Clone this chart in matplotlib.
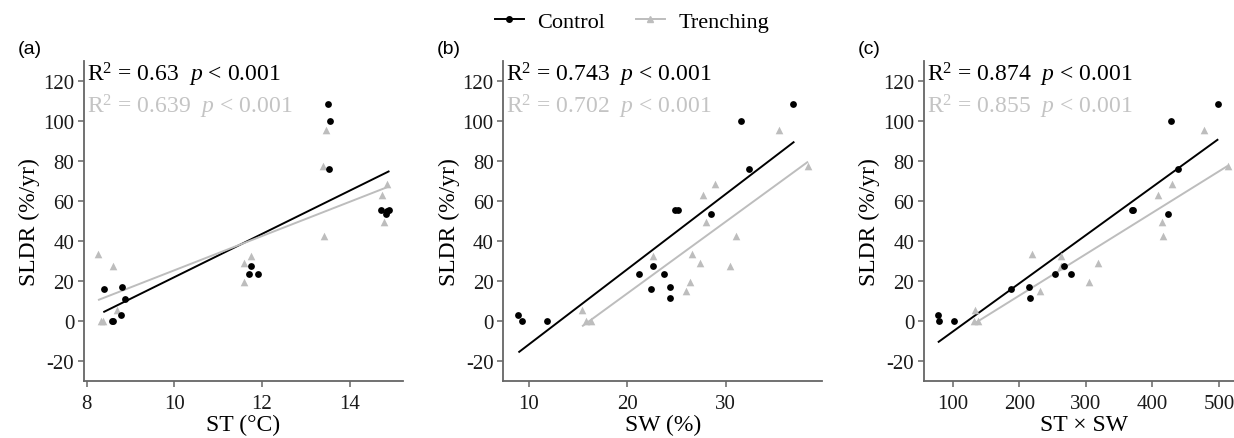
import numpy as np
import matplotlib
matplotlib.use("Agg")
import matplotlib.pyplot as plt
from matplotlib.lines import Line2D

plt.rcParams['font.family'] = ['Liberation Serif', 'DejaVu Serif']
plt.rcParams['mathtext.fontset'] = 'custom'
plt.rcParams['mathtext.rm'] = 'Liberation Serif'
plt.rcParams['mathtext.it'] = 'Liberation Serif:italic'
plt.rcParams['axes.unicode_minus'] = False

ctrl_col = 'black'
trench_col = '#BDBDBD'
axis_col = '#666666'

# panel (a): ST
st_ctrl_x = [8.39, 8.58, 8.61, 8.81, 8.87, 8.78, 11.75, 11.71, 11.90, 13.50, 13.56, 13.52, 14.71, 14.85, 14.90, 14.83]
st_ctrl_y = [16, 0, 0, 17, 11.3, 3, 27.5, 23.5, 23.5, 108.3, 100, 75.7, 55.7, 55, 55.7, 53.3]
st_tr_x = [8.27, 8.61, 8.33, 8.37, 8.70, 11.59, 11.60, 11.76, 13.39, 13.47, 13.41, 14.75, 14.85, 14.79]
st_tr_y = [33.5, 27.7, 0, 0, 5.7, 29, 19.7, 32.7, 77.2, 95.2, 42.3, 63, 68.3, 49.7]
st_fit_x = [[8.40, 14.89], [8.28, 14.85]]
st_fit_y = [[4.7, 74.7], [10.7, 66.8]]

# panel (b): SW
sw_ctrl_x = [8.95, 9.35, 11.85, 21.21, 22.39, 22.66, 23.71, 24.35, 24.32, 24.82, 25.20, 28.47, 31.54, 32.39, 36.85]
sw_ctrl_y = [3.3, 0, 0, 23.7, 16, 27.7, 23.3, 17, 11.7, 55.7, 55.7, 53.3, 100, 75.7, 108.3]
sw_tr_x = [15.37, 15.78, 16.31, 22.59, 25.97, 26.35, 26.62, 27.43, 27.67, 27.97, 28.95, 30.47, 31.04, 35.43, 38.33]
sw_tr_y = [5.7, 0, 0, 32.7, 15.2, 19.7, 33.5, 28.8, 63, 49.7, 68.3, 27.3, 42.3, 95.2, 77.2]
sw_fit_x = [[9.04, 36.88], [15.5, 38.27]]
sw_fit_y = [[-15.3, 89.3], [-2.3, 79.3]]

# panel (c): ST x SW
sx_ctrl_x = [78.4, 79.4, 101.9, 187.9, 214.5, 215.5, 253, 266.5, 278, 370, 371, 423, 428, 438, 498]
sx_ctrl_y = [3.3, 0, 0, 16, 17, 11.7, 23.7, 27.7, 23.3, 55.7, 55.5, 53.3, 100, 75.7, 108.3]
sx_tr_x = [133.5, 132.5, 137.5, 219.5, 230.5, 262, 263, 305, 318, 408, 414, 416.6, 430, 478, 513]
sx_tr_y = [5.7, 0, 0, 33.5, 15.2, 32.7, 27.3, 19.7, 28.8, 63, 49.7, 42.3, 68.3, 95.2, 77.2]
sx_fit_x = [[79, 497.6], [133.5, 512]]
sx_fit_y = [[-10.3, 90.5], [-1, 77.3]]

panels = [
    ('(a)', 'ST (°C)', st_ctrl_x, st_ctrl_y, st_tr_x, st_tr_y, st_fit_x, st_fit_y, (7.94, 15.22), [8, 10, 12, 14], ('0.63', '0.639')),
    ('(b)', 'SW (%)', sw_ctrl_x, sw_ctrl_y, sw_tr_x, sw_tr_y, sw_fit_x, sw_fit_y, (7.43, 39.8), [10, 20, 30], ('0.743', '0.702')),
    ('(c)', 'ST × SW', sx_ctrl_x, sx_ctrl_y, sx_tr_x, sx_tr_y, sx_fit_x, sx_fit_y, (57, 536), [100, 200, 300, 400, 500], ('0.874', '0.855')),
]

fig = plt.figure(figsize=(12.34, 4.39), dpi=100)
lefts = [0.0681, 0.4079, 0.7488]
for left, (tag, xlab, cx, cy, tx, ty, fx, fy, xlim, xt, r2) in zip(lefts, panels):
    ax = fig.add_axes([left, 0.1292, 0.2585, 0.7303])
    ax.plot(fx[0], fy[0], color=ctrl_col, lw=1.4)
    ax.plot(fx[1], fy[1], color=trench_col, lw=1.4)
    ax.scatter(tx, ty, marker='^', s=30, color=trench_col, linewidths=0, zorder=3)
    ax.scatter(cx, cy, marker='o', s=24, color=ctrl_col, linewidths=0, zorder=4)
    ax.set_xlim(*xlim)
    ax.set_ylim(-30, 130)
    ax.set_xticks(xt)
    ax.set_yticks([-20, 0, 20, 40, 60, 80, 100, 120])
    for s in ['top', 'right']:
        ax.spines[s].set_visible(False)
    for s in ['left', 'bottom']:
        ax.spines[s].set_color(axis_col)
        ax.spines[s].set_linewidth(1.3)
    ax.tick_params(colors=axis_col, labelcolor='#1a1a1a', labelsize=15, length=4, width=1.1, pad=3)
    ax.tick_params(axis='x', pad=5)
    ax.set_xlabel(xlab, fontsize=17, labelpad=1)
    ax.set_ylabel('SLDR (%/yr)', fontsize=17, labelpad=2)
    ax.text(0.008, 120, 'R$^2$ = ' + r2[0] + '  $p$ < 0.001', transform=ax.get_yaxis_transform(),
            fontsize=17, color='black', va='baseline')
    ax.text(0.008, 104, 'R$^2$ = ' + r2[1] + '  $p$ < 0.001', transform=ax.get_yaxis_transform(),
            fontsize=17, color='#C4C4C4', va='baseline')
    fig.text(left - 0.054, 0.888, tag, fontsize=14, family=['Liberation Sans'], va='center')

handles = [Line2D([], [], color=ctrl_col, marker='o', markersize=4, lw=1.4),
           Line2D([], [], color=trench_col, marker='^', markersize=4, lw=1.4)]
fig.legend(handles, ['Control', 'Trenching'], loc='center', bbox_to_anchor=(0.512, 0.948), ncol=2,
           frameon=False, fontsize=16, handlelength=1.3, columnspacing=1.4, handletextpad=0.6)

fig.savefig('out.png', dpi=100)
